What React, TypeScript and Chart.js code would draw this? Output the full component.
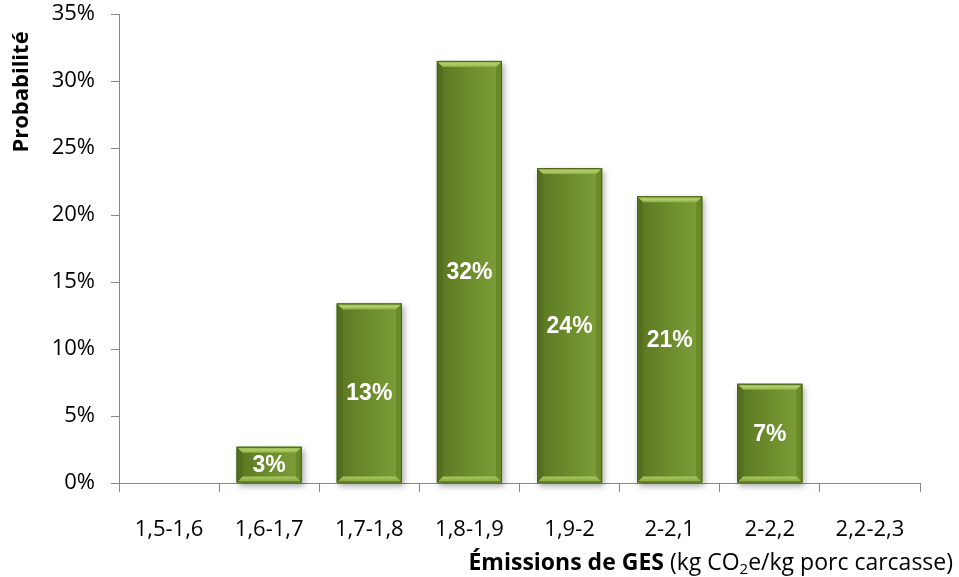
import React, { useEffect, useRef } from "react";
import { Chart, registerables } from "chart.js";

Chart.register(...registerables);

// Emission classes (kg CO2e / kg carcass) and their probability in %
const categories = ["1,5-1,6", "1,6-1,7", "1,7-1,8", "1,8-1,9", "1,9-2", "2-2,1", "2-2,2", "2,2-2,3"];
const probabilities = [0, 2.7, 13.4, 31.5, 23.5, 21.4, 7.4, 0];
const yMax = 35;
const yStep = 5;
const yTitle = "Probabilité";
const xTitleBold = "Émissions de GES";
const xTitleA = " (kg CO";
const xTitleSub = "2";
const xTitleB = "e/kg porc carcasse)";

const TICK_FONT = "'Open Sans', 'Noto Sans', sans-serif";
const AXIS_COLOR = "#878787";

// Bevelled green bars, value labels and axis titles
const decorPlugin = {
  id: "decor",
  afterDatasetsDraw(chart: any) {
    const ctx: CanvasRenderingContext2D = chart.ctx;
    const meta = chart.getDatasetMeta(0);
    meta.data.forEach((el: any, i: number) => {
      const v = probabilities[i];
      if (!v) return;
      const { x, y, base, width } = el.getProps(["x", "y", "base", "width"], true);
      const l = x - width / 2;
      const r = x + width / 2;
      const t = y;
      const b = base;
      const h = b - t;
      const bev = Math.min(6, h / 4);

      // body with soft drop shadow
      ctx.save();
      ctx.shadowColor = "rgba(0,0,0,0.35)";
      ctx.shadowBlur = 6;
      ctx.shadowOffsetX = 2;
      ctx.shadowOffsetY = 3;
      const g = ctx.createLinearGradient(l, 0, r, 0);
      g.addColorStop(0, "#5a7621");
      g.addColorStop(0.5, "#6d8c2c");
      g.addColorStop(1, "#7fa03a");
      ctx.fillStyle = g;
      ctx.fillRect(l, t, width, h);
      ctx.restore();

      const poly = (pts: number[][], fill: any) => {
        ctx.beginPath();
        ctx.moveTo(pts[0][0], pts[0][1]);
        for (let k = 1; k < pts.length; k++) ctx.lineTo(pts[k][0], pts[k][1]);
        ctx.closePath();
        ctx.fillStyle = fill;
        ctx.fill();
      };
      ctx.save();
      // left and right bevels
      poly([[l, t], [l + bev, t + bev], [l + bev, b - bev], [l, b]], "#556f1e");
      poly([[r, t], [r - bev, t + bev], [r - bev, b - bev], [r, b]], "#6a8a29");
      // top bevel highlight
      const gt = ctx.createLinearGradient(0, t, 0, t + bev);
      gt.addColorStop(0, "#86a640");
      gt.addColorStop(0.5, "#b4d06c");
      gt.addColorStop(1, "#8cad45");
      poly([[l, t], [r, t], [r - bev, t + bev], [l + bev, t + bev]], gt);
      // bottom bevel highlight
      const gb = ctx.createLinearGradient(0, b - bev, 0, b);
      gb.addColorStop(0, "#a9c962");
      gb.addColorStop(1, "#7e9e38");
      poly([[l, b], [r, b], [r - bev, b - bev], [l + bev, b - bev]], gb);
      // outline
      ctx.strokeStyle = "#4a6218";
      ctx.lineWidth = 1;
      ctx.strokeRect(l + 0.5, t + 0.5, width - 1, h - 1);

      // value label
      ctx.fillStyle = "#ffffff";
      ctx.font = "bold 23px 'Liberation Sans', Arial, sans-serif";
      ctx.textAlign = "center";
      ctx.textBaseline = "middle";
      ctx.fillText(Math.round(v) + "%", x, (t + b) / 2 + 1);
      ctx.restore();
    });
  },
  afterDraw(chart: any) {
    const ctx: CanvasRenderingContext2D = chart.ctx;
    ctx.save();
    ctx.fillStyle = "#000000";
    // y axis title
    ctx.translate(22, 92);
    ctx.rotate(-Math.PI / 2);
    ctx.font = `bold 22px ${TICK_FONT}`;
    ctx.textAlign = "center";
    ctx.textBaseline = "middle";
    ctx.fillText(yTitle, 0, 0);
    ctx.restore();

    // x axis title, right aligned, mixed weights with subscript
    ctx.save();
    ctx.fillStyle = "#000000";
    ctx.textBaseline = "alphabetic";
    ctx.textAlign = "left";
    const bold = `bold 23px ${TICK_FONT}`;
    const reg = `23px ${TICK_FONT}`;
    const sub = `15px ${TICK_FONT}`;
    ctx.font = bold;
    const w1 = ctx.measureText(xTitleBold).width;
    ctx.font = reg;
    const w2 = ctx.measureText(xTitleA).width;
    const w4 = ctx.measureText(xTitleB).width;
    ctx.font = sub;
    const w3 = ctx.measureText(xTitleSub).width;
    const right = 953;
    const baseY = 570;
    let cx = right - (w1 + w2 + w3 + w4);
    ctx.font = bold;
    ctx.fillText(xTitleBold, cx, baseY);
    cx += w1;
    ctx.font = reg;
    ctx.fillText(xTitleA, cx, baseY);
    cx += w2;
    ctx.font = sub;
    ctx.fillText(xTitleSub, cx, baseY + 4);
    cx += w3;
    ctx.font = reg;
    ctx.fillText(xTitleB, cx, baseY);
    ctx.restore();
  },
};

export default function App() {
  const canvasRef = useRef<HTMLCanvasElement | null>(null);

  useEffect(() => {
    if (!canvasRef.current) return;
    const chart = new Chart(canvasRef.current, {
      type: "bar",
      data: {
        labels: categories,
        datasets: [
          {
            data: probabilities,
            backgroundColor: "#6d8c2c",
            borderWidth: 0,
            barPercentage: 0.65,
            categoryPercentage: 1,
          },
        ],
      },
      options: {
        animation: false,
        responsive: false,
        maintainAspectRatio: false,
        layout: { padding: { top: 14, right: 39, bottom: 0, left: 0 } },
        plugins: {
          legend: { display: false },
          tooltip: { enabled: false },
        },
        scales: {
          x: {
            offset: true,
            grid: {
              offset: true,
              drawOnChartArea: false,
              drawTicks: true,
              tickLength: 9,
              color: AXIS_COLOR,
            },
            border: { color: AXIS_COLOR, width: 1 },
            ticks: {
              color: "#000000",
              font: { family: TICK_FONT, size: 22 },
              padding: 25,
              maxRotation: 0,
              autoSkip: false,
            },
            afterFit: (scale: any) => {
              scale.height = 94;
              scale.paddingLeft = 0;
              scale.paddingRight = 0;
            },
          },
          y: {
            min: 0,
            max: yMax,
            grid: {
              drawOnChartArea: false,
              drawTicks: true,
              tickLength: 8,
              color: AXIS_COLOR,
            },
            border: { color: AXIS_COLOR, width: 1 },
            ticks: {
              stepSize: yStep,
              color: "#000000",
              font: { family: TICK_FONT, size: 22 },
              padding: 16,
              callback: (v: any) => v + "%",
            },
            afterFit: (scale: any) => {
              scale.width = 119;
              scale.paddingTop = 0;
              scale.paddingBottom = 0;
            },
          },
        },
      },
      plugins: [decorPlugin],
    });
    return () => chart.destroy();
  }, []);

  return (
    <div style={{ position: "absolute", left: 0, top: 0, width: 959, height: 577, background: "#ffffff" }}>
      <canvas ref={canvasRef} width={959} height={577} style={{ display: "block" }} />
    </div>
  );
}
